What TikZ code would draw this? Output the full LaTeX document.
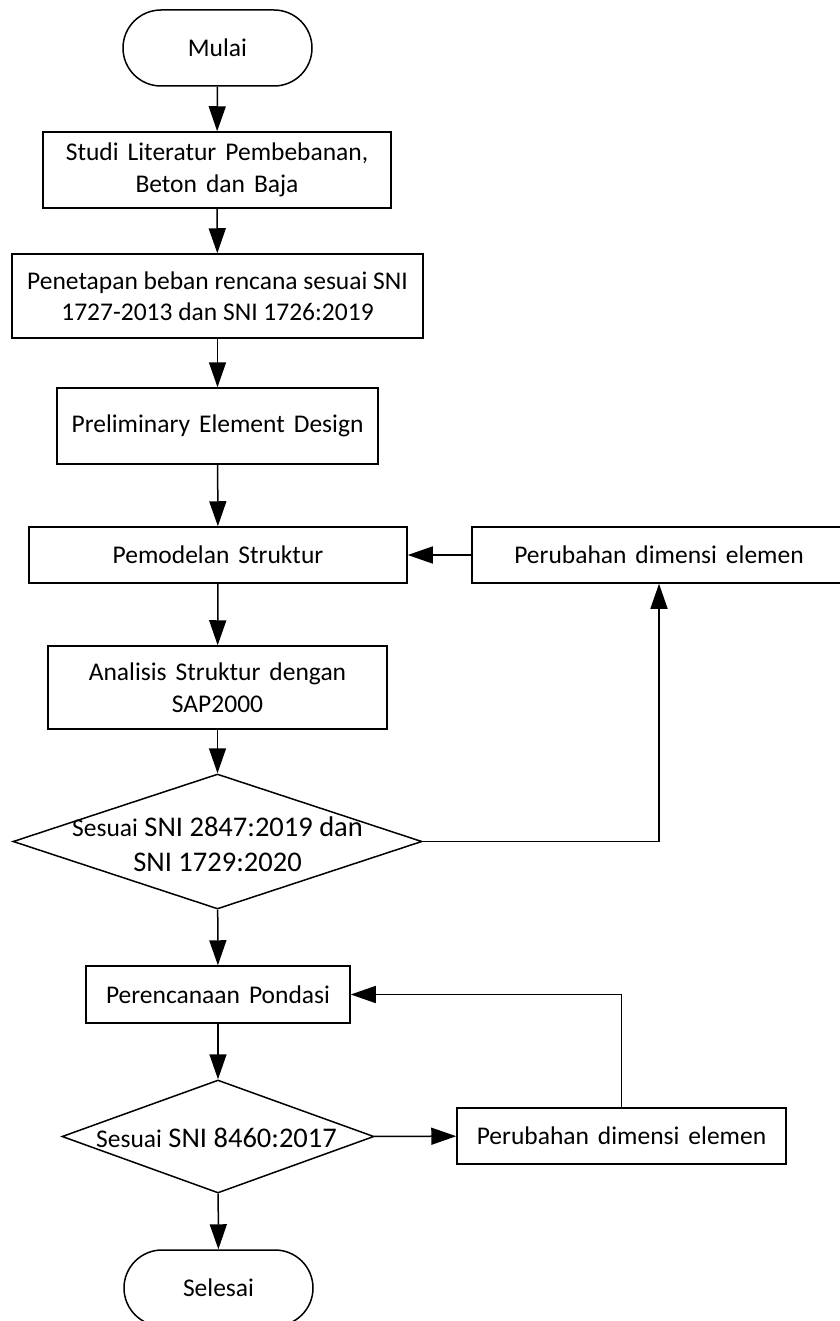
\documentclass[tikz,border=0pt]{standalone}
\usepackage{fontspec}
\setmainfont{Carlito}
\usetikzlibrary{arrows.meta,positioning,shapes.geometric}

\begin{document}
\begin{tikzpicture}[x=1pt,y=-1pt,>={Triangle[length=25pt,width=17pt]}]
  \tikzstyle{proses}=[draw,line width=1.5pt,align=center,inner sep=0pt,font=\fontsize{25.5}{31.5}\selectfont]
  \tikzstyle{renggang}=[proses,font={\fontsize{25.5}{31.5}\selectfont\spaceskip=9pt plus 2pt\relax}]
  \tikzstyle{terminal}=[proses,rounded corners=38pt,minimum width=189pt,minimum height=76pt]
  \tikzstyle{keputusan}=[draw,diamond,line width=1.5pt,inner sep=0pt]
  \tikzstyle{teks}=[align=center,inner sep=0pt,font=\fontsize{28.5}{35}\selectfont]
  \tikzstyle{alur}=[->,line width=1.5pt]
  \useasboundingbox (0,0) rectangle (839,1321);
  \node[terminal] (mulai) at (217.5,48) {Mulai};
  \node[renggang,minimum width=348pt,minimum height=76pt] (studi) at (217,170) {Studi Literatur Pembebanan,\\Beton dan Baja};
  \node[proses,minimum width=411pt,minimum height=84pt] (beban) at (217.5,296) {Penetapan beban rencana sesuai SNI\\1727-2013 dan SNI 1726:2019};
  \node[renggang,minimum width=321pt,minimum height=76pt] (prelim) at (217.5,426) {Preliminary Element Design};
  \node[renggang,minimum width=378pt,minimum height=56pt] (model) at (218,555) {Pemodelan Struktur};
  \node[renggang,minimum width=374pt,minimum height=56pt] (ubah1) at (659,555) {Perubahan dimensi elemen};
  \node[renggang,minimum width=339pt,minimum height=83pt] (analisis) at (217.5,687.5) {Analisis Struktur dengan\\SAP2000};
  \node[keputusan,minimum width=409pt,minimum height=135pt] (cek1) at (217.5,841.5) {};
  \node[teks] (cek1teks) at (217.5,844.5) {{\fontsize{25.5}{35}\selectfont Sesuai} SNI 2847:2019 dan\\SNI 1729:2020};
  \node[renggang,minimum width=264pt,minimum height=57pt] (pondasi) at (218,994.5) {Perencanaan Pondasi};
  \node[keputusan,minimum width=312pt,minimum height=113pt] (cek2) at (218,1136.5) {};
  \node[teks] (cek2teks) at (216.5,1138) {{\fontsize{25.5}{35}\selectfont Sesuai} SNI 8460:2017};
  \node[renggang,minimum width=329pt,minimum height=56pt] (ubah2) at (621.5,1136) {Perubahan dimensi elemen};
  \node[terminal] (selesai) at (218.5,1288) {Selesai};
  \foreach \a/\b in {mulai/studi,studi/beban,beban/prelim,prelim/model,model/analisis,analisis/cek1,cek1/pondasi,pondasi/cek2,cek2/selesai}
    \draw[alur] (\a) -- (\b);
  \draw[alur] (ubah1) -- (model);
  \draw[alur] (cek1.east) -| (ubah1.south);
  \draw[alur] (cek2) -- (ubah2);
  \draw[alur] (ubah2.north) |- (pondasi.east);
\end{tikzpicture}
\end{document}
